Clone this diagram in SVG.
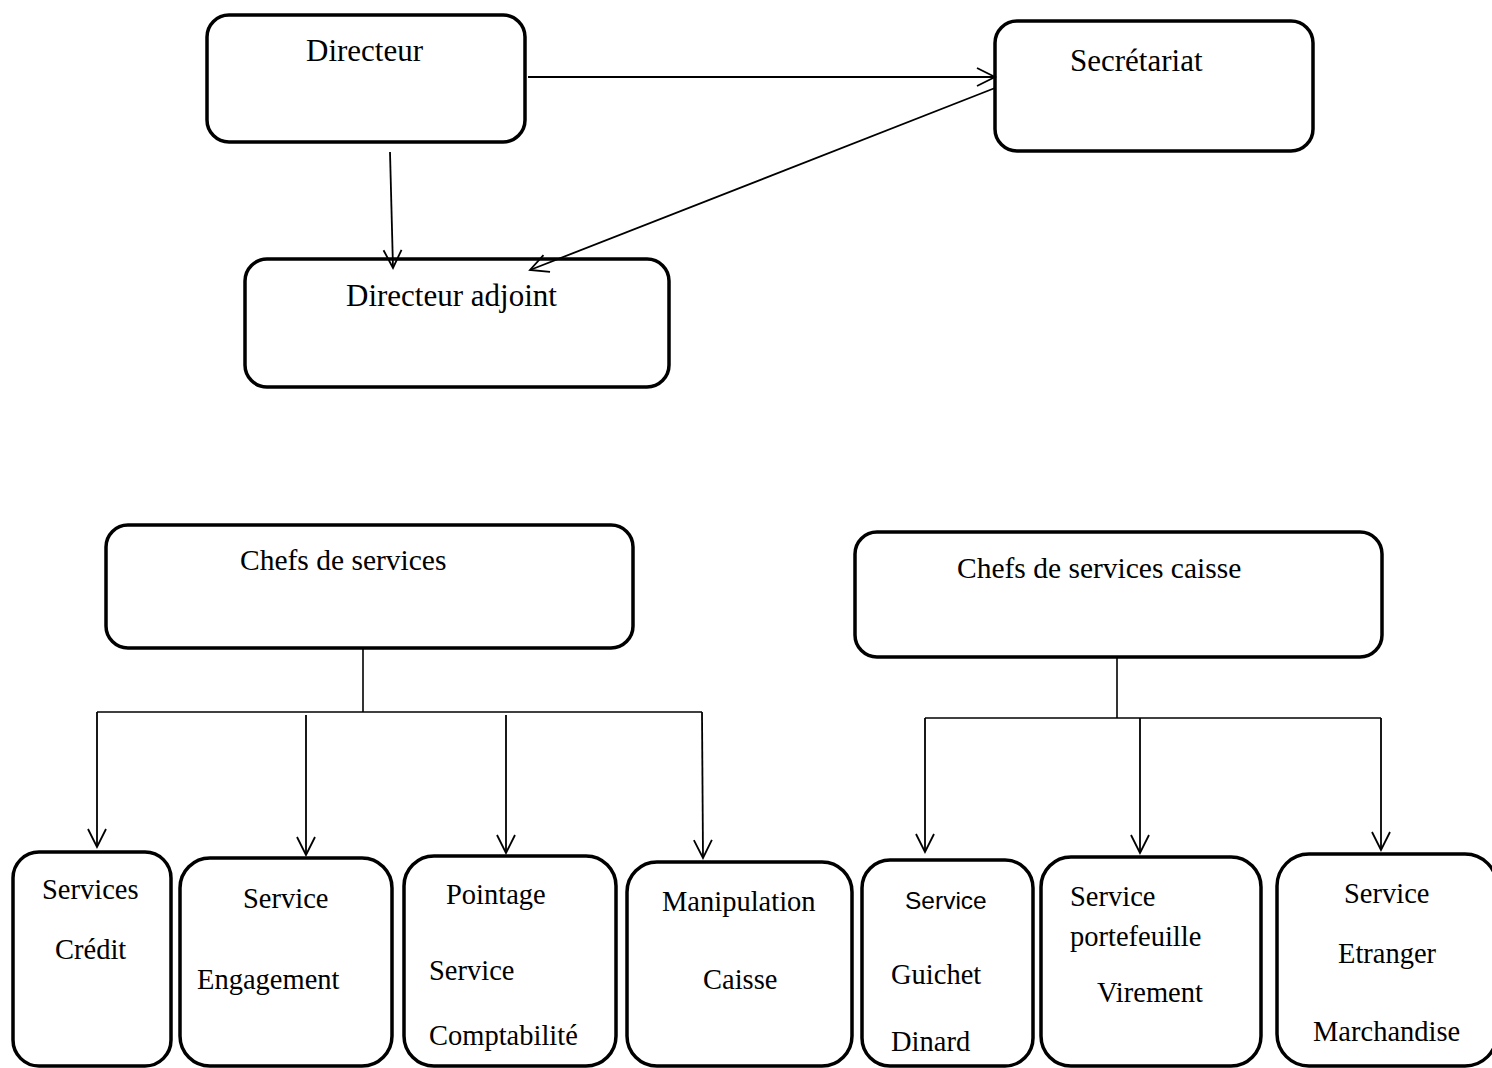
<svg xmlns="http://www.w3.org/2000/svg" width="1492" height="1068" viewBox="0 0 1492 1068">
<style>
.box{fill:#fff;stroke:#000;stroke-width:3.5}
.t{font-family:"Liberation Serif","Times New Roman",serif;fill:#000}
.big{font-size:31px}
.mid{font-size:29.5px}
.sm{font-size:28.5px}
.sans{font-family:"Liberation Sans",Arial,sans-serif;font-size:24.5px;fill:#000}
.ln{fill:none;stroke:#000;stroke-width:1.6}
.arr{fill:none;stroke:#000;stroke-width:1.8;marker-end:url(#ah)}
</style>
<defs>
<marker id="ah" viewBox="-20 -11 22 22" refX="0" refY="0" markerWidth="22" markerHeight="22" markerUnits="userSpaceOnUse" orient="auto">
<path d="M-18,-9 L0,0 L-18,9" fill="none" stroke="#000" stroke-width="1.8"/>
</marker>
</defs>
<rect width="1492" height="1068" fill="#fff"/>
<g id="directeur"><rect class="box" x="207" y="15" width="318" height="127" rx="22"/><text class="t big" x="306" y="61">Directeur</text></g>
<g id="secretariat"><rect class="box" x="995" y="21" width="318" height="130" rx="22"/><text class="t big" x="1070" y="71">Secrétariat</text></g>
<g id="directeur-adjoint"><rect class="box" x="245" y="259" width="424" height="128" rx="22"/><text class="t big" x="346" y="306">Directeur adjoint</text></g>
<g id="chefs-services"><rect class="box" x="106" y="525" width="527" height="123" rx="22"/><text class="t mid" x="240" y="570">Chefs de services</text></g>
<g id="chefs-services-caisse"><rect class="box" x="855" y="532" width="527" height="125" rx="22"/><text class="t mid" x="957" y="578">Chefs de services caisse</text></g>
<g id="services-credit"><rect class="box" x="13" y="852" width="158" height="214" rx="26"/><text class="t sm" x="42" y="899">Services</text><text class="t sm" x="55" y="959">Crédit</text></g>
<g id="service-engagement"><rect class="box" x="180" y="858" width="212" height="208" rx="30"/><text class="t sm" x="243" y="908">Service</text><text class="t sm" x="197" y="989">Engagement</text></g>
<g id="pointage"><rect class="box" x="404" y="856" width="212" height="210" rx="30"/><text class="t sm" x="446" y="904">Pointage</text><text class="t sm" x="429" y="980">Service</text><text class="t sm" x="429" y="1045">Comptabilité</text></g>
<g id="manipulation"><rect class="box" x="627" y="862" width="225" height="204" rx="30"/><text class="t sm" x="662" y="911">Manipulation</text><text class="t sm" x="703" y="989">Caisse</text></g>
<g id="guichet"><rect class="box" x="862" y="860" width="171" height="206" rx="28"/><text class="sans" x="905" y="909">Service</text><text class="t sm" x="891" y="984">Guichet</text><text class="t sm" x="891" y="1051">Dinard</text></g>
<g id="portefeuille"><rect class="box" x="1041" y="857" width="220" height="209" rx="30"/><text class="t sm" x="1070" y="906">Service</text><text class="t sm" x="1070" y="946">portefeuille</text><text class="t sm" x="1097" y="1002">Virement</text></g>
<g id="etranger"><rect class="box" x="1277" y="854" width="220" height="212" rx="32"/><text class="t sm" x="1344" y="903">Service</text><text class="t sm" x="1338" y="963">Etranger</text><text class="t sm" x="1313" y="1041">Marchandise</text></g>
<g id="connectors">
<line class="arr" x1="528" y1="77" x2="995" y2="77"/>
<line class="arr" x1="390" y1="152" x2="393" y2="268"/>
<line class="arr" x1="995" y1="88" x2="530" y2="270"/>
<polyline class="ln" points="363,648 363,712"/>
<polyline class="ln" points="97,712 702,712"/>
<line class="arr" x1="97" y1="712" x2="97" y2="847"/>
<line class="arr" x1="306" y1="715" x2="306" y2="855"/>
<line class="arr" x1="506" y1="715" x2="506" y2="853"/>
<line class="arr" x1="702" y1="712" x2="703" y2="858"/>
<polyline class="ln" points="1117,657 1117,718"/>
<polyline class="ln" points="925,718 1381,718"/>
<line class="arr" x1="925" y1="718" x2="925" y2="852"/>
<line class="arr" x1="1140" y1="718" x2="1140" y2="853"/>
<line class="arr" x1="1381" y1="718" x2="1381" y2="850"/>
</g>
</svg>
